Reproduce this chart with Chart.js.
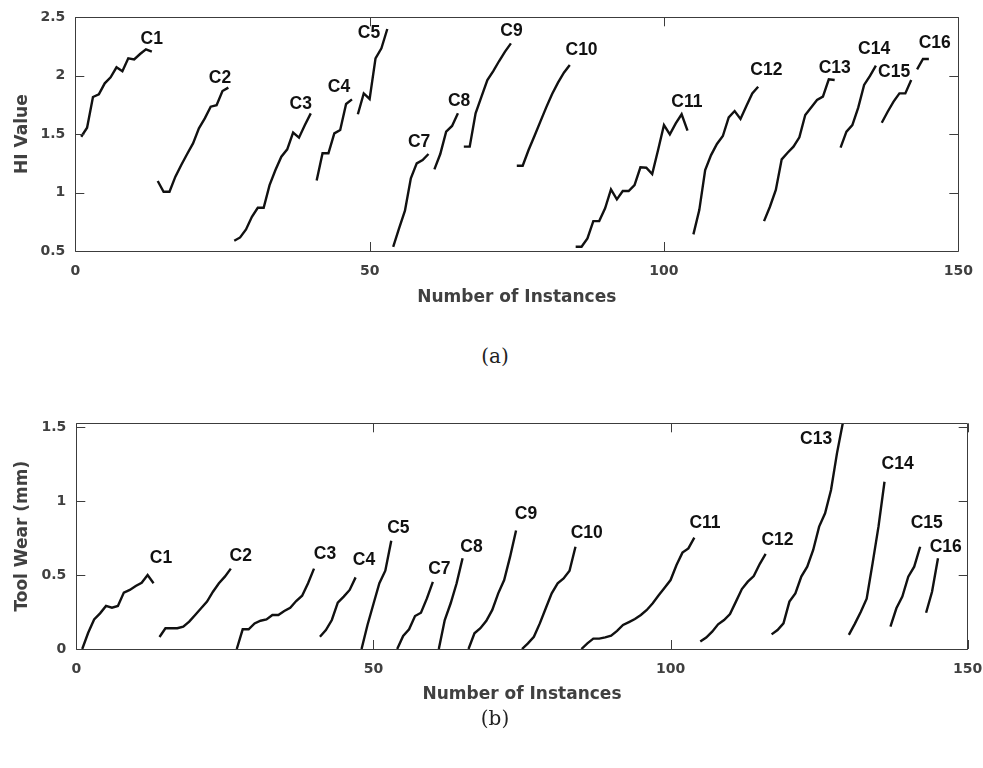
<!DOCTYPE html>
<html>
<head>
<meta charset="utf-8">
<script src="https://cdn.jsdelivr.net/npm/chart.js@4.4.0/dist/chart.umd.min.js"></script>
<style>
html,body{margin:0;padding:0;background:#fff;width:983px;height:768px;overflow:hidden;}
.box{position:absolute;left:0;width:983px;height:330px;}
#boxA{top:0;}
#boxB{top:400px;}
.cap{position:absolute;font-family:"DejaVu Serif",serif;font-size:20px;color:#222;transform:translate(-50%,-50%);white-space:nowrap;}
</style>
</head>
<body>
<div class="box" id="boxA"><canvas id="chartA" width="983" height="330"></canvas></div>
<div class="box" id="boxB"><canvas id="chartB" width="983" height="330"></canvas></div>
<div class="cap" style="left:495px;top:356px;">(a)</div>
<div class="cap" style="left:495px;top:718px;">(b)</div>
<script>
// ---------- data ----------
const curveNames = ['C1','C2','C3','C4','C5','C7','C8','C9','C10','C11','C12','C13','C14','C15','C16'];
const curveStarts = [1,14,27,41,48,54,61,66,75,85,105,117,130,137,143];

// (a) HI value per instance
const hiC1  = [1.478,1.555,1.818,1.841,1.935,1.986,2.072,2.038,2.149,2.140,2.186,2.226,2.206];
const hiC2  = [1.099,1.007,1.007,1.136,1.236,1.330,1.421,1.550,1.635,1.735,1.747,1.869,1.898];
const hiC3  = [0.588,0.616,0.685,0.793,0.870,0.870,1.064,1.193,1.307,1.370,1.513,1.470,1.578,1.678];
const hiC4  = [1.104,1.336,1.336,1.507,1.535,1.758,1.798];
const hiC5  = [1.670,1.849,1.801,2.149,2.235,2.400];
const hiC7  = [0.536,0.693,0.845,1.122,1.250,1.279,1.330];
const hiC8  = [1.199,1.330,1.521,1.570,1.678];
const hiC9  = [1.393,1.393,1.678,1.821,1.963,2.040,2.126,2.206,2.277];
const hiC10 = [1.230,1.230,1.364,1.484,1.607,1.729,1.844,1.941,2.026,2.092];
const hiC11 = [0.537,0.537,0.608,0.756,0.756,0.865,1.027,0.942,1.013,1.013,1.064,1.216,1.213,1.159,1.364,1.578,1.498,1.592,1.670,1.530];
const hiC12 = [0.642,0.850,1.193,1.321,1.416,1.484,1.644,1.698,1.630,1.741,1.849,1.906];
const hiC13 = [0.756,0.879,1.022,1.284,1.341,1.393,1.473,1.664,1.729,1.792,1.821,1.969,1.963];
const hiC14 = [1.384,1.521,1.578,1.727,1.921,1.998,2.086];
const hiC15 = [1.598,1.692,1.778,1.849,1.849,1.963];
const hiC16 = [2.055,2.143,2.143];
const hiSeries = [hiC1,hiC2,hiC3,hiC4,hiC5,hiC7,hiC8,hiC9,hiC10,hiC11,hiC12,hiC13,hiC14,hiC15,hiC16];

// (b) tool wear (mm) per instance
const wearC1  = [0,0.110,0.200,0.241,0.291,0.279,0.291,0.381,0.399,0.426,0.448,0.500,0.444];
const wearC2  = [0.081,0.140,0.140,0.140,0.151,0.185,0.230,0.275,0.320,0.387,0.444,0.489,0.543];
const wearC3  = [0,0.133,0.133,0.173,0.191,0.200,0.230,0.230,0.257,0.279,0.324,0.360,0.444,0.543];
const wearC4  = [0.083,0.128,0.196,0.313,0.354,0.399,0.484];
const wearC5  = [0,0.162,0.304,0.444,0.529,0.732];
const wearC7  = [0,0.088,0.133,0.223,0.245,0.342,0.453];
const wearC8  = [0,0.196,0.309,0.444,0.613];
const wearC9  = [0,0.106,0.140,0.191,0.264,0.376,0.466,0.624,0.800];
const wearC10 = [0,0.038,0.083,0.173,0.275,0.376,0.444,0.477,0.529,0.691];
const wearC11 = [0,0.038,0.070,0.070,0.079,0.090,0.122,0.162,0.182,0.203,0.230,0.264,0.309,0.363,0.414,0.466,0.568,0.651,0.680,0.752];
const wearC12 = [0.050,0.077,0.117,0.167,0.196,0.236,0.320,0.405,0.455,0.493,0.574,0.642];
const wearC13 = [0.099,0.128,0.173,0.320,0.376,0.489,0.556,0.669,0.827,0.917,1.074,1.322,1.530];
const wearC14 = [0.095,0.170,0.250,0.340,0.580,0.830,1.130];
const wearC15 = [0.151,0.275,0.354,0.489,0.556,0.691];
const wearC16 = [0.245,0.387,0.613];
const wearSeries = [wearC1,wearC2,wearC3,wearC4,wearC5,wearC7,wearC8,wearC9,wearC10,wearC11,wearC12,wearC13,wearC14,wearC15,wearC16];

// tick values
const xTickValues = [0,50,100,150];
const hiTickValues = [0.5,1,1.5,2,2.5];
const wearTickValues = [0,0.5,1,1.5];

// curve label anchors (data coordinates)
const hiLabelX = [12.98,24.58,38.3,44.8,49.9,58.4,65.2,74.1,86.0,103.9,117.4,129.0,135.7,139.1,146.0];
const hiLabelY = [2.312,1.978,1.758,1.90,2.363,1.435,1.786,2.385,2.22,1.777,2.049,2.063,2.226,2.029,2.277];
const wearLabelX = [14.25,27.66,41.85,48.4,54.2,61.1,66.5,75.67,85.9,105.8,118.0,124.5,138.2,143.1,146.3];
const wearLabelY = [0.617,0.624,0.642,0.601,0.815,0.538,0.691,0.91,0.782,0.853,0.736,1.419,1.248,0.853,0.691];

// ---------- drawing ----------
const AXIS_COLOR = '#3c3c3c';
const TEXT_COLOR = '#404040';

const framePlugin = {
  id: 'frameAndLabels',
  afterDatasetsDraw(chart, args, opts) {
    const {ctx, chartArea: a, scales} = chart;
    const xs = scales.x, ys = scales.y;
    ctx.save();
    ctx.strokeStyle = AXIS_COLOR;
    ctx.lineWidth = 1;
    ctx.beginPath();
    ctx.rect(Math.round(a.left)+0.5, Math.round(a.top)+0.5, Math.round(a.right-a.left), Math.round(a.bottom-a.top));
    const tl = 9;
    xs.ticks.forEach(t => {
      const px = Math.round(xs.getPixelForValue(t.value))+0.5;
      ctx.moveTo(px, a.bottom); ctx.lineTo(px, a.bottom - tl);
      ctx.moveTo(px, a.top); ctx.lineTo(px, a.top + tl);
    });
    ys.ticks.forEach(t => {
      const py = Math.round(ys.getPixelForValue(t.value))+0.5;
      ctx.moveTo(a.left, py); ctx.lineTo(a.left + tl, py);
      ctx.moveTo(a.right, py); ctx.lineTo(a.right - tl, py);
    });
    ctx.stroke();
    ctx.fillStyle = '#111';
    ctx.font = 'bold 17.5px "Liberation Sans", Arial, sans-serif';
    ctx.textAlign = 'center';
    ctx.textBaseline = 'middle';
    opts.names.forEach((n, i) => {
      ctx.fillText(n, xs.getPixelForValue(opts.lx[i]), ys.getPixelForValue(opts.ly[i]));
    });
    ctx.restore();
  }
};

function makeChart(id, series, yMin, yMax, yTicks, yTitle, lx, ly, pad, yW, xH, yTitlePad, xTitlePad) {
  const datasets = series.map((vals, k) => ({
    label: curveNames[k],
    data: vals.map((v, i) => ({x: curveStarts[k] + i, y: v})),
    borderColor: '#111',
    borderWidth: 2.4,
    pointRadius: 0,
    fill: false,
    tension: 0
  }));
  const tickFont = {family: '"DejaVu Sans", sans-serif', weight: 'bold', size: 14};
  const titleFont = {family: '"DejaVu Sans", sans-serif', weight: 'bold', size: 17};
  return new Chart(document.getElementById(id), {
    type: 'line',
    data: {datasets},
    options: {
      responsive: false,
      animation: false,
      layout: {padding: pad},
      plugins: {
        legend: {display: false},
        tooltip: {enabled: false},
        frameAndLabels: {names: curveNames, lx, ly}
      },
      scales: {
        x: {
          type: 'linear', min: 0, max: 150,
          afterBuildTicks: s => { s.ticks = xTickValues.map(v => ({value: v})); },
          afterFit: s => { s.height = xH; s.paddingLeft = 0; s.paddingRight = 0; },
          grid: {display: false, drawTicks: false},
          border: {display: false},
          ticks: {font: tickFont, color: TEXT_COLOR, padding: 12, maxRotation: 0, autoSkip: false,
                  callback: v => String(v)},
          title: {display: true, text: 'Number of Instances', font: titleFont, color: TEXT_COLOR, padding: {top: 0, bottom: xTitlePad}}
        },
        y: {
          type: 'linear', min: yMin, max: yMax,
          afterBuildTicks: s => { s.ticks = yTicks.map(v => ({value: v})); },
          afterFit: s => { s.width = yW; s.paddingTop = 0; s.paddingBottom = 0; },
          grid: {display: false, drawTicks: false},
          border: {display: false},
          ticks: {font: tickFont, color: TEXT_COLOR, padding: 10, callback: v => String(v)},
          title: {display: true, text: yTitle, font: titleFont, color: TEXT_COLOR, padding: {top: yTitlePad, bottom: 0}}
        }
      }
    },
    plugins: [framePlugin]
  });
}

makeChart('chartA', hiSeries, 0.5, 2.5, hiTickValues, 'HI Value', hiLabelX, hiLabelY,
  {left: 0, top: 17.3, right: 24.7, bottom: 0}, 75.3, 79, 12, 22);
makeChart('chartB', wearSeries, 0, 1.525, wearTickValues, 'Tool Wear (mm)', wearLabelX, wearLabelY,
  {left: 0, top: 23.3, right: 15.3, bottom: 0}, 76.3, 81, 12, 25);
</script>
</body>
</html>
